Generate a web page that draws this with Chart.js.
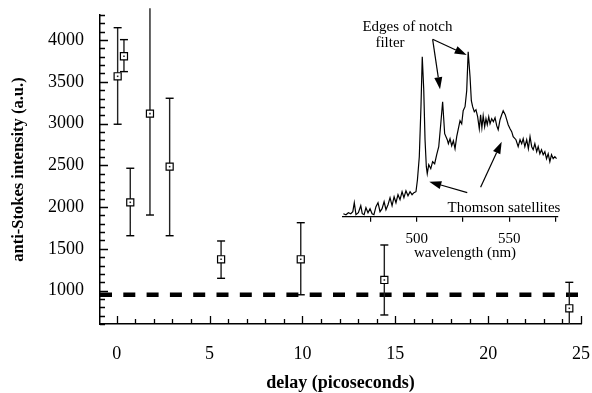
<!DOCTYPE html>
<html><head><meta charset="utf-8">
<script src="https://cdn.jsdelivr.net/npm/chart.js@4/dist/chart.umd.min.js"></script>
<style>
html,body{margin:0;padding:0;background:#fff;}
#wrap{position:relative;width:592px;height:393px;overflow:hidden;}
#main{position:absolute;left:0;top:0;}
#inset{position:absolute;left:330px;top:0;}
</style></head><body>
<div id="wrap"><canvas id="main" width="592" height="393"></canvas><canvas id="inset" width="262" height="265"></canvas></div>
<script>
// ---- main chart data ----
const delays = [0.05, 0.39, 0.73, 1.79, 2.85, 5.62, 9.91, 14.41, 24.37];
const intensity = [3566, 3806, 2057, 3119, 2484, 1375, 1375, 1127, 788];
const errLow = [2992, 3622, 1657, 1905, 1657, 1147, 950, 708, 500];
const errHigh = [4148, 4005, 2465, 4381, 3303, 1594, 1813, 1546, 1099];
const backgroundLevel = 950;
const xTickLabels = [0, 5, 10, 15, 20, 25];
const yTickLabels = [1000, 1500, 2000, 2500, 3000, 3500, 4000];
const xRange = [-0.9, 25];
const yRange = [600, 4300];

// ---- inset spectrum data ----
const wavelength = [460.4,461.8,463.1,464.4,465.5,466.3,467.2,468.5,469.8,470.6,471.6,472.6,473.7,474.8,475.9,476.9,478.0,479.1,480.2,481.3,482.4,483.4,484.5,485.6,486.7,487.8,488.8,489.9,491.0,492.1,493.1,494.2,495.3,496.4,497.5,498.5,499.6,500.4,501.4,502.3,503.0,503.8,504.5,505.2,505.7,506.5,507.6,508.6,509.7,510.8,511.9,513.0,514.0,515.1,516.5,517.1,518.0,518.9,519.8,520.7,521.6,522.5,523.4,524.3,525.1,526.1,527.0,527.8,528.8,529.5,530.2,531.1,532.0,532.9,533.8,534.5,535.2,535.9,536.7,537.4,538.1,538.9,539.6,540.5,541.4,542.3,543.2,544.0,545.0,545.9,546.7,547.8,548.6,549.4,550.4,551.3,552.1,553.6,554.8,555.8,556.7,557.5,558.4,559.4,560.3,561.2,562.1,562.9,563.8,564.8,565.6,566.5,567.4,568.3,569.2,570.1,571.0,571.9,572.8,573.7,574.6,575.5,576.3];
const spectrum = [3,2,4,3,5,14,2,4,11,3,2,9,4,8,3,2,10,14,5,8,15,7,12,19,11,20,14,22,17,25,19,26,21,25,22,24,25,37,60,110,160,127,77,50,43,52,48,55,53,62,70,93,115,83,77,73,78,71,76,68,80,88,96,93,106,110,126,165,140,116,110,105,107,100,88,102,89,101,90,98,92,100,93,98,95,99,91,87,97,102,106,102,97,92,88,85,80,77,70,77,73,78,70,77,68,80,70,67,73,65,70,63,67,62,65,58,63,55,62,58,60,58];
const insetTicks = [475, 500, 525, 550];
const insetTickLabels = [500, 550];
const insetRange = [460.2, 576.3];

Chart.defaults.font.family = "'Liberation Serif', 'Times New Roman', serif";
Chart.defaults.color = '#000';

// error bar segments built from the arrays
const errData = [];
delays.forEach((d, i) => {
  errData.push({x: d, y: errLow[i]}, {x: d, y: errHigh[i]});
  if (i < delays.length - 1) errData.push({x: d, y: null});
});
const pts = delays.map((d, i) => ({x: d, y: intensity[i]}));

const innerTicks = {
  id: 'innerTicks',
  afterDraw(chart) {
    const {ctx, chartArea} = chart;
    const xs = chart.scales.x, ys = chart.scales.y;
    ctx.save();
    ctx.strokeStyle = '#000';
    ctx.lineWidth = 1.3;
    ctx.beginPath();
    xs.ticks.forEach(t => {
      const px = Math.round(xs.getPixelForValue(t.value)) + 0.5;
      const len = xTickLabels.includes(t.value) ? 8 : 5;
      ctx.moveTo(px, chartArea.bottom);
      ctx.lineTo(px, chartArea.bottom - len);
    });
    ys.ticks.forEach(t => {
      const py = Math.round(ys.getPixelForValue(t.value)) + 0.5;
      const len = yTickLabels.includes(t.value) ? 8 : 5;
      ctx.moveTo(chartArea.left, py);
      ctx.lineTo(chartArea.left + len, py);
    });
    ctx.stroke();
    ctx.restore();
  }
};

const hiddenGrid = (len) => ({display: true, drawOnChartArea: false, drawTicks: true, tickLength: len, color: 'rgba(0,0,0,0)'});

new Chart(document.getElementById('main'), {
  type: 'scatter',
  data: {
    datasets: [
      { // marker centre dots
        data: pts, pointStyle: 'rect', pointRadius: 1.1, pointBackgroundColor: '#222',
        pointBorderWidth: 0, showLine: false, order: 0
      },
      { // markers
        data: pts, pointStyle: 'rect', pointRadius: 5, pointBackgroundColor: '#fff',
        pointBorderColor: '#000', pointBorderWidth: 1.2, showLine: false, order: 1
      },
      { // error bars
        data: errData, showLine: true, spanGaps: false, borderColor: '#222', borderWidth: 1.4,
        pointStyle: 'line', pointRadius: 4, pointBorderColor: '#000', pointBorderWidth: 1.4,
        clip: {left: 10, top: 12, right: 10, bottom: 0}, order: 2
      },
      { // background level
        data: [{x: xRange[0], y: backgroundLevel}, {x: xRange[1], y: backgroundLevel}],
        showLine: true, borderColor: '#000', borderWidth: 4.5, borderDash: [12, 11.3],
        borderCapStyle: 'butt', pointRadius: 0, order: 3
      }
    ]
  },
  options: {
    responsive: false, animation: false, events: [],
    layout: {padding: {left: 0, right: 11, top: 15, bottom: 0}},
    plugins: {legend: {display: false}, tooltip: {enabled: false}},
    scales: {
      x: {
        type: 'linear', min: xRange[0], max: xRange[1],
        grid: hiddenGrid(19), border: {display: true, color: '#000', width: 1.5},
        ticks: {stepSize: 1, includeBounds: false, autoSkip: false, maxRotation: 0, padding: 0,
          font: {size: 18}, callback: v => xTickLabels.includes(v) ? String(v) : ''},
        title: {display: true, text: 'delay (picoseconds)', font: {size: 18, weight: 'bold', lineHeight: 1.1}, padding: {top: 0, bottom: 0}},
        afterFit: s => { s.height = 69; }
      },
      y: {
        type: 'linear', min: yRange[0], max: yRange[1],
        grid: hiddenGrid(16), border: {display: true, color: '#000', width: 1.5},
        ticks: {stepSize: 100, includeBounds: false, autoSkip: false, padding: 0,
          font: {size: 18}, callback: v => yTickLabels.includes(v) ? String(v) : ''},
        title: {display: true, text: 'anti-Stokes intensity (a.u.)', font: {size: 16.5, weight: 'bold'}, padding: {top: 9, bottom: 0}},
        afterFit: s => { s.width = 100; }
      }
    }
  },
  plugins: [innerTicks]
});

// ---- inset ----
const insetNotes = [
  {text: 'Edges of notch', x: 495.0, y: 190},
  {text: 'filter', x: 485.6, y: 173.4},
  {text: 'Thomson satellites', x: 547.1, y: 8.4},
  {text: 'wavelength (nm)', x: 526.1, y: -36.6}
];
const insetArrows = [
  {from: [508.6, 177.4], to: [512.6, 127.4]},
  {from: [508.6, 177.4], to: [527.0, 161.7]},
  {from: [527.3, 24.0], to: [506.8, 35.0]},
  {from: [534.5, 29.4], to: [545.9, 75.0]}
];

const insetDecor = {
  id: 'insetDecor',
  afterDraw(chart) {
    const {ctx} = chart;
    const xs = chart.scales.x, ys = chart.scales.y;
    ctx.save();
    ctx.fillStyle = '#000';
    ctx.strokeStyle = '#000';
    ctx.font = "15px 'Liberation Serif', 'Times New Roman', serif";
    ctx.textAlign = 'center';
    ctx.textBaseline = 'middle';
    insetNotes.forEach(n => ctx.fillText(n.text, xs.getPixelForValue(n.x), ys.getPixelForValue(n.y)));
    insetArrows.forEach(a => {
      const x0 = xs.getPixelForValue(a.from[0]), y0 = ys.getPixelForValue(a.from[1]);
      const x1 = xs.getPixelForValue(a.to[0]), y1 = ys.getPixelForValue(a.to[1]);
      const ang = Math.atan2(y1 - y0, x1 - x0);
      const L = 12, W = 4;
      const bx = x1 - L * Math.cos(ang), by = y1 - L * Math.sin(ang);
      ctx.lineWidth = 1.2;
      ctx.beginPath(); ctx.moveTo(x0, y0); ctx.lineTo(bx, by); ctx.stroke();
      ctx.beginPath();
      ctx.moveTo(x1, y1);
      ctx.lineTo(bx + W * Math.sin(ang), by - W * Math.cos(ang));
      ctx.lineTo(bx - W * Math.sin(ang), by + W * Math.cos(ang));
      ctx.closePath(); ctx.fill();
    });
    ctx.restore();
  }
};

new Chart(document.getElementById('inset'), {
  type: 'line',
  data: {
    datasets: [{
      data: wavelength.map((w, i) => ({x: w, y: spectrum[i]})),
      borderColor: '#000', borderWidth: 1.2, pointRadius: 0, tension: 0, fill: false, clip: false
    }]
  },
  options: {
    responsive: false, animation: false, events: [],
    layout: {padding: {left: 13, right: 34, top: 40, bottom: 0}},
    plugins: {legend: {display: false}, tooltip: {enabled: false}},
    scales: {
      x: {
        type: 'linear', min: insetRange[0], max: insetRange[1],
        grid: {display: true, drawOnChartArea: false, drawTicks: true, tickLength: 5, color: '#000', lineWidth: 1.2},
        border: {display: true, color: '#000', width: 1.3},
        ticks: {stepSize: 25, includeBounds: false, autoSkip: false, maxRotation: 0, padding: 8,
          font: {size: 15}, callback: v => insetTickLabels.includes(v) ? String(v) : ''},
        afterFit: s => { s.height = 48.3; }
      },
      y: {type: 'linear', display: false, min: 0, max: 176.7}
    }
  },
  plugins: [insetDecor]
});
</script>
</body></html>
